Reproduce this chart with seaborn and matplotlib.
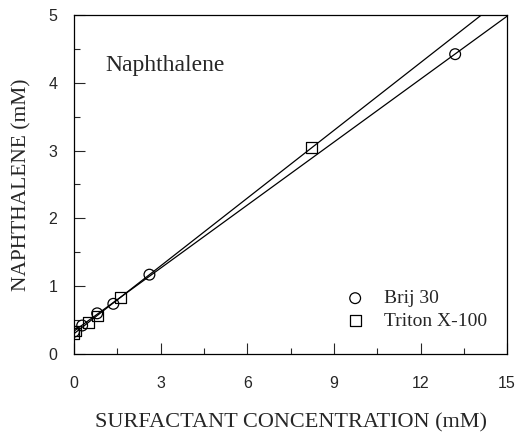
import numpy as np
import pandas as pd
import seaborn as sns
from matplotlib import pyplot as plt
from matplotlib.ticker import MultipleLocator

# values (mM)
brij_x = [0.0, 0.28, 0.8, 1.36, 2.61, 13.2]
brij_y = [0.33, 0.42, 0.60, 0.74, 1.17, 4.42]
triton_x = [0.0, 0.05, 0.5, 0.8, 1.62, 8.22]
triton_y = [0.30, 0.34, 0.46, 0.56, 0.83, 3.04]

brij = pd.DataFrame({"conc": brij_x, "naph": brij_y})
triton = pd.DataFrame({"conc": triton_x, "naph": triton_y})

sns.set_style("ticks")
plt.rcParams["font.family"] = ["Liberation Sans", "DejaVu Sans"]

fig = plt.figure(figsize=(5.18, 4.36), dpi=100)
ax = fig.add_axes([0.143, 0.188, 0.836, 0.778])
# limits first so regplot extends the fits across the whole axis
ax.set_xlim(0, 15)
ax.set_ylim(0, 5)

line_kw = dict(color="black", lw=0.9)
sns.regplot(data=brij, x="conc", y="naph", scatter=False, ci=None,
            truncate=False, line_kws=line_kw, ax=ax)
sns.regplot(data=triton, x="conc", y="naph", scatter=False, ci=None,
            truncate=False, line_kws=line_kw, ax=ax)

sns.scatterplot(data=brij, x="conc", y="naph", marker="o", s=60,
                facecolor="none", edgecolor="black", linewidth=0.9,
                label="Brij 30", ax=ax, zorder=3)
sns.scatterplot(data=triton, x="conc", y="naph", marker="s", s=60,
                facecolor="none", edgecolor="black", linewidth=0.9,
                label="Triton X-100", ax=ax, zorder=3)

ax.set_xlim(0, 15)
ax.set_ylim(0, 5)
ax.xaxis.set_major_locator(MultipleLocator(3))
ax.xaxis.set_minor_locator(MultipleLocator(1.5))
ax.yaxis.set_major_locator(MultipleLocator(1))
ax.yaxis.set_minor_locator(MultipleLocator(0.5))
ax.tick_params(which="both", direction="in", width=0.8, labelsize=11.5)
ax.tick_params(axis="x", pad=16)
ax.tick_params(axis="y", pad=12)
ax.tick_params(which="major", length=8)
ax.tick_params(which="minor", length=4)
for sp in ax.spines.values():
    sp.set_linewidth(0.9)
    sp.set_color("black")

serif = ["Liberation Serif", "DejaVu Serif"]
ax.set_xlabel("SURFACTANT CONCENTRATION (mM)", fontsize=16, family=serif, labelpad=16)
ax.set_ylabel("NAPHTHALENE (mM)", fontsize=15.5, family=serif, labelpad=12)
ax.text(1.08, 4.26, "Naphthalene", fontsize=17, family=serif, va="center")

leg = ax.legend(loc="lower right", bbox_to_anchor=(0.995, 0.02), frameon=False,
                prop={"family": serif, "size": 14}, handletextpad=0.5,
                labelspacing=0.25, markerscale=1.0)

fig.savefig("out.png", dpi=100)
